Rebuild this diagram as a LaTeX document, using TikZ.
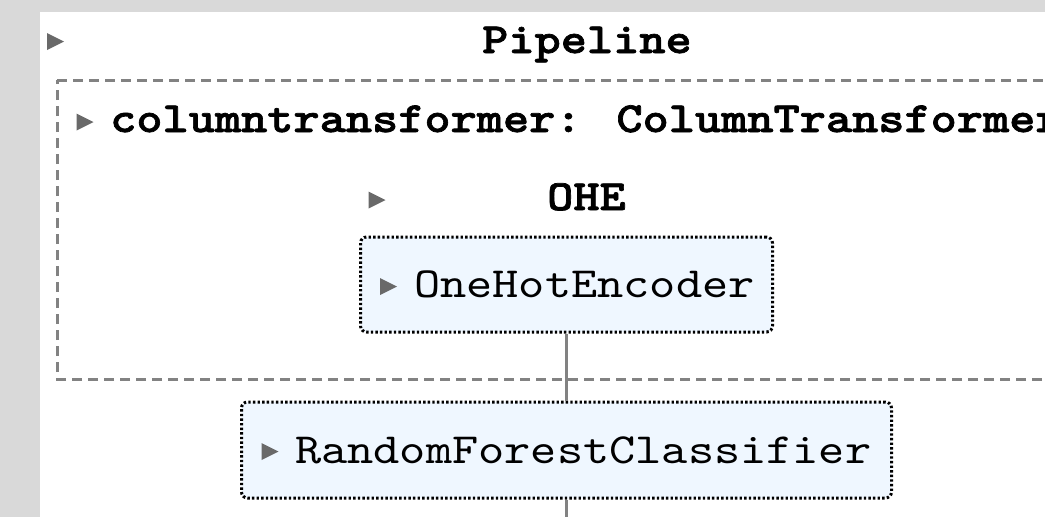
\documentclass[tikz,border=0pt]{standalone}
\usepackage{fontspec}
% typewriter face with serifs, widened to a Courier-like advance
\newfontfamily\estfont{lmmono10-regular}[Extension=.otf, BoldFont=lmmonolt10-bold,
  BoldFeatures={FakeBold=1.6}, FakeStretch=1.16]
\usetikzlibrary{positioning}

\definecolor{pagegray}{RGB}{217,217,217}
\definecolor{estfill}{RGB}{239,247,255}
\definecolor{framegray}{RGB}{130,130,130}
\definecolor{caretgray}{RGB}{105,105,105}

\tikzset{
  label text/.style={inner sep=0pt, anchor=base west,
    font=\fontsize{43}{50}\selectfont\estfont},
  title text/.style={label text, font=\fontsize{43}{50}\selectfont\estfont\bfseries},
  estbox/.style={draw=black, fill=estfill, line width=3pt,
    dash pattern=on 2.4pt off 2.2pt, rounded corners=6pt, inner sep=0pt},
  groupframe/.style={draw=framegray, line width=3pt, dash pattern=on 10pt off 6pt},
  link/.style={draw=framegray, line width=3pt},
  caretshape/.style={fill=caretgray},
}

% a small right-pointing toggle marker centred on a named coordinate
\newcommand{\togglemark}[3]{%
  \coordinate (#1) at (#2,#3);
  \fill[caretshape, shift={(#1)}] (-8.5,-8.5) -- (8.5,0) -- (-8.5,8.5) -- cycle;
}

\begin{document}
\begin{tikzpicture}[x=1pt, y=-1pt]
  \useasboundingbox (0,0) rectangle (1045,517);
  \clip (0,0) rectangle (1045,517);

  % page and panel
  \fill[pagegray] (0,0) rectangle (1045,517);
  \fill[white] (40,12) rectangle (1045,517);

  % pipeline heading
  \togglemark{pipetoggle}{55.5}{41.5}
  \node[title text] (pipetitle) at (482,53) {Pipeline};

  % column transformer group
  \draw[groupframe] (57,80) -- (1080,80) -- (1080,379) -- (57,379) -- cycle;
  \togglemark{cttoggle}{85}{122}
  \node[title text] (cttitle) at (110,132) {columntransformer: ColumnTransformer};

  % OHE branch
  \togglemark{ohetoggle}{377}{200}
  \node[title text] (ohetitle) at (547,210) {OHE};
  \node[estbox, minimum width=412pt, minimum height=95pt] (ohe) at (566.5,284.5) {};
  \togglemark{ohebtn}{388.5}{286.5}
  \node[label text] (ohetext) at (414,297) {OneHotEncoder};

  % final estimator
  \node[estbox, minimum width=650pt, minimum height=96pt] (rfc) at (566.5,450) {};
  \togglemark{rfcbtn}{270}{451.5}
  \node[label text] (rfctext) at (295,463) {RandomForestClassifier};

  % connectors
  \coordinate (tail) at (566.5,517);
  \draw[link] (ohe.south) -- (rfc.north);
  \draw[link] (rfc.south) -- (tail);
\end{tikzpicture}
\end{document}
